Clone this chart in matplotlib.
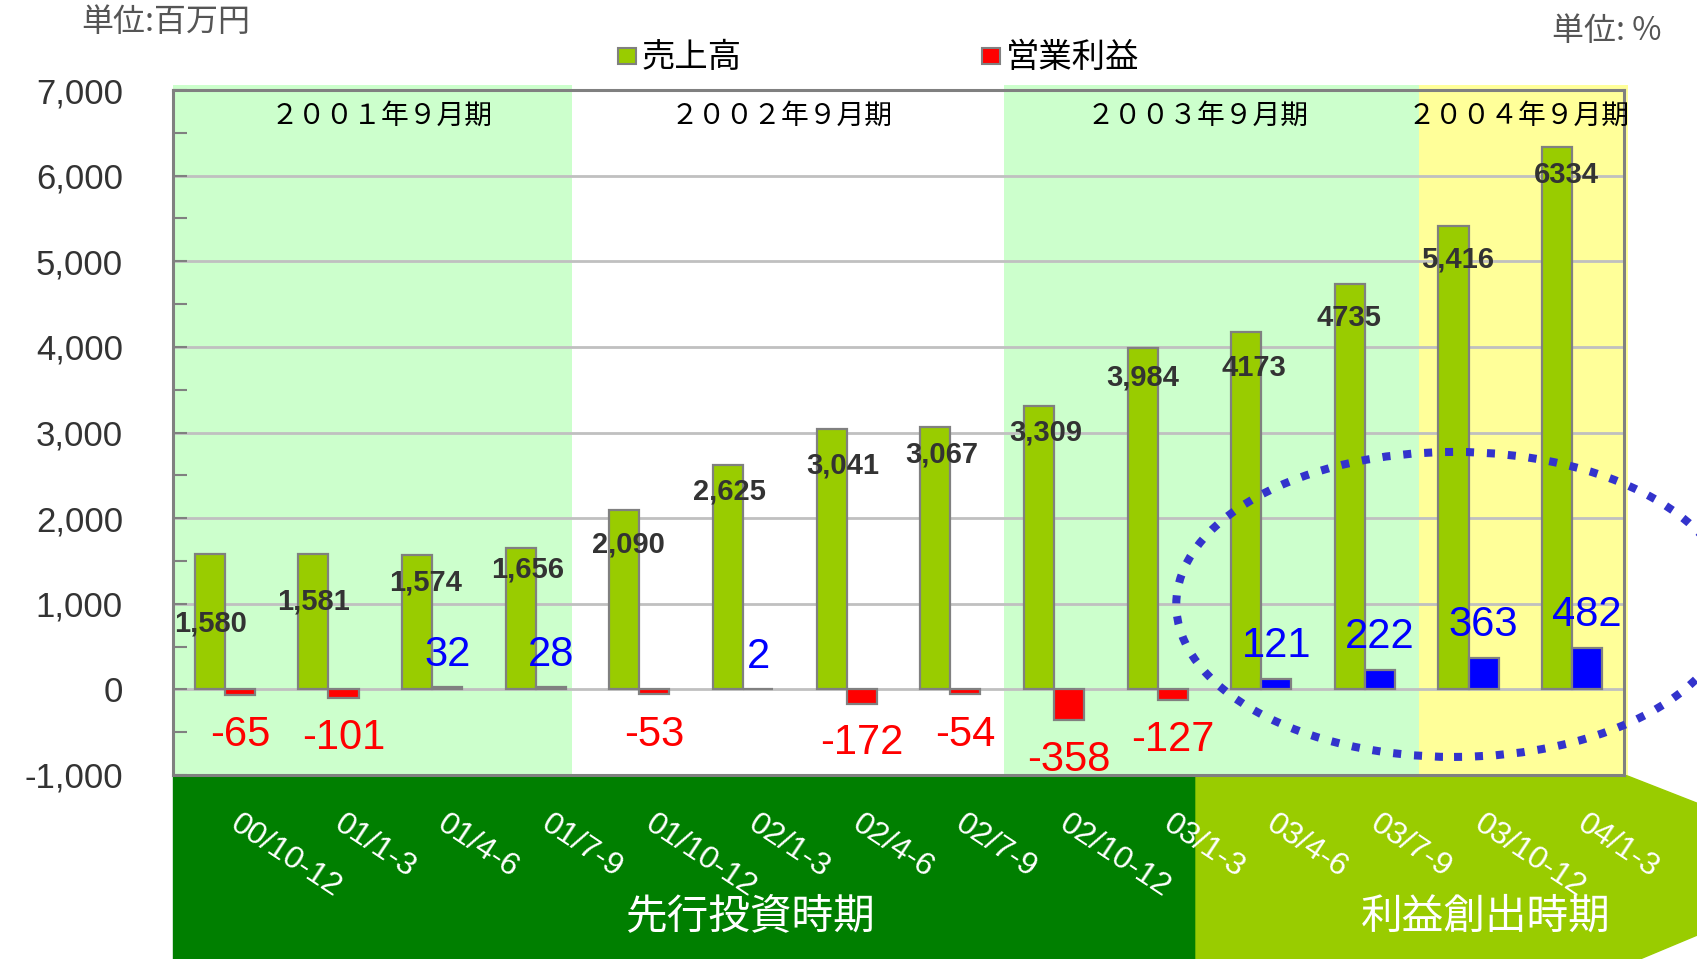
import matplotlib
matplotlib.use('Agg')
import matplotlib.pyplot as plt
from matplotlib.patches import Rectangle, Polygon, Ellipse

# data
quarters = ['00/10-12', '01/1-3', '01/4-6', '01/7-9', '01/10-12', '02/1-3',
            '02/4-6', '02/7-9', '02/10-12', '03/1-3', '03/4-6', '03/7-9',
            '03/10-12', '04/1-3']
sales = [1580, 1581, 1574, 1656, 2090, 2625, 3041, 3067, 3309, 3984,
         4173, 4735, 5416, 6334]
profit = [-65, -101, 32, 28, -53, 2, -172, -54, -358, -127,
          121, 222, 363, 482]
sales_text = ['1,580', '1,581', '1,574', '1,656', '2,090', '2,625', '3,041',
              '3,067', '3,309', '3,984', '4173', '4735', '5,416', '6334']
profit_text = ['-65', '-101', '32', '28', '-53', '2', '-172', '-54', '-358',
               '-127', '121', '222', '363', '482']
periods = ['２００１年９月期', '２００２年９月期', '２００３年９月期', '２００４年９月期']
phases = ['先行投資時期', '利益創出時期']

# layout (label placement as in the original slide)
sales_dx = [-0.14, -0.14, -0.06, -0.08, -0.11, -0.13, -0.04, -0.08, -0.08,
            -0.14, -0.07, -0.15, -0.11, -0.06]
sales_dy = [-809, -557, -322, -253, -396, -312, -424, -324, -313, -343,
            -418, -399, -397, -329]
profit_y = [-531, -569, 405, 405, -531, 379, -632, -531, -822, -594,
            506, 607, 746, 872]
period_x = [1.51, 5.37, 9.39, 12.48]
bands = [(-0.5, 3.35, '#ccffcc'), (7.52, 11.52, '#ccffcc'),
         (11.52, 13.54, '#ffff99')]

W, H = 1697, 959
JP = ['Noto Sans CJK JP', 'DejaVu Sans']
NUM = ['Liberation Sans', 'DejaVu Sans']
plt.rcParams['font.family'] = NUM


def fx(x, y):
    return (x / W, 1 - y / H)


fig = plt.figure(figsize=(W / 100, H / 100), dpi=100)
ax = fig.add_axes([173 / W, 1 - 775 / H, (1624 - 173) / W, (775 - 90) / H])

# bottom phase bands (behind the axes)
fig.patches.append(Rectangle(fx(173, 959), (1196 - 173) / W, (959 - 775) / H,
                             transform=fig.transFigure, color='#007f00', zorder=-2))
fig.patches.append(Polygon([fx(1196, 775), fx(1625, 775), fx(1860, 867),
                            fx(1640, 959), fx(1196, 959)],
                           transform=fig.transFigure, color='#99cc00', zorder=-2))

for x0, x1, c in bands:
    ax.axvspan(x0, x1, ymin=0, ymax=1.007, color=c, zorder=0.2, clip_on=False, lw=0)

x = list(range(len(quarters)))
w = 0.29
ax.bar([i - w / 2 for i in x], sales, width=w, color='#99cc00',
       edgecolor='#808080', linewidth=1.6, zorder=2)
pcolors = ['#ff0000' if v < 0 else '#0000ff' for v in profit]
ax.bar([i + w / 2 for i in x], profit, width=w, color=pcolors,
       edgecolor='#808080', linewidth=1.6, zorder=2)

for i in x:
    ax.text(i + sales_dx[i], sales[i] + sales_dy[i], sales_text[i],
            ha='center', va='center', fontsize=21, fontweight='bold',
            color='#333333', zorder=4)
    ax.text(i + w / 2, profit_y[i], profit_text[i], ha='center', va='center',
            fontsize=30, color='#ff0000' if profit[i] < 0 else '#0000ff',
            zorder=4)
    ax.text(i + 0.16, -0.05, quarters[i], transform=ax.get_xaxis_transform(),
            rotation=-33.5, rotation_mode='anchor', ha='left', va='top',
            fontsize=23, color='white', clip_on=False, zorder=4)

for px_, lab in zip(period_x, periods):
    ax.text(px_, 0.962, lab, transform=ax.get_xaxis_transform(), ha='center',
            va='center', fontsize=20, family=JP, color='black', zorder=4)

ax.add_patch(Ellipse((11.86, 992), width=2 * 2.68, height=2 * 1781, fill=False,
                     edgecolor='#3333cc', linewidth=5.8, linestyle=(0, (1, 1.6)),
                     capstyle='butt', clip_on=False, zorder=5))

ax.set_xlim(-0.5, 13.5)
ax.set_ylim(-1000, 7000)
ax.set_xticks([])
ax.set_yticks(range(-1000, 7001, 1000))
ax.set_yticks(range(-500, 7000, 1000), minor=True)
ax.set_yticklabels(['{:,}'.format(v) for v in range(-1000, 7001, 1000)])
ax.tick_params(axis='y', which='both', direction='in', length=10, width=1.5,
               color='#808080', labelsize=25, labelcolor='#333333', pad=36)
ax.set_axisbelow(True)
ax.yaxis.grid(True, color='#c0c0c0', linewidth=2, zorder=0.5)
for s in ax.spines.values():
    s.set_color('#808080')
    s.set_linewidth(2.2)
    s.set_zorder(3)
ax.patch.set_alpha(0)

# phase texts
fig.text(*fx(750, 917), phases[0], ha='center', va='center', fontsize=30,
         family=JP, color='white')
fig.text(*fx(1486, 917), phases[1], ha='center', va='center', fontsize=30,
         family=JP, color='white')

# legend
fig.patches.append(Rectangle(fx(618, 64), 18 / W, 16 / H, transform=fig.transFigure,
                             facecolor='#99cc00', edgecolor='#808080', lw=1.5))
fig.text(*fx(642, 57), '売上高', ha='left', va='center', fontsize=24, family=JP)
fig.patches.append(Rectangle(fx(982, 64), 18 / W, 16 / H, transform=fig.transFigure,
                             facecolor='#ff0000', edgecolor='#808080', lw=1.5))
fig.text(*fx(1006, 57), '営業利益', ha='left', va='center', fontsize=24, family=JP)

fig.text(*fx(81, 22), '単位:百万円', ha='left', va='center', fontsize=23,
         family=JP, color='#555555')
fig.text(*fx(1662, 31), '単位: %', ha='right', va='center', fontsize=23,
         family=JP, color='#555555')

fig.savefig('out.png', dpi=100)
